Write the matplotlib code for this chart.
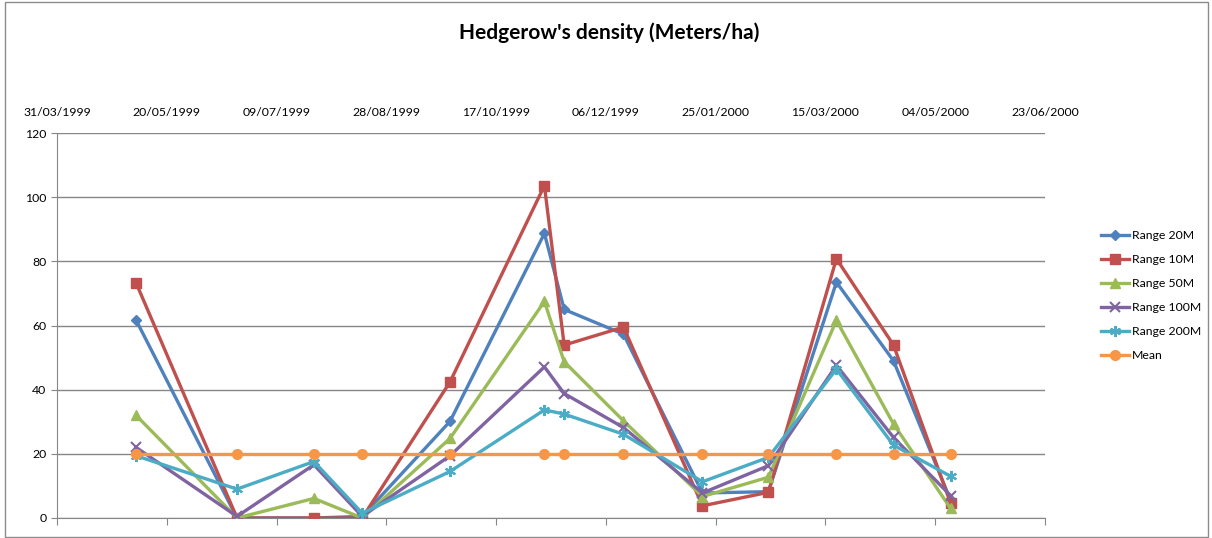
import datetime as dt
import matplotlib
matplotlib.use("Agg")
import matplotlib.pyplot as plt
import matplotlib.dates as mdates
from matplotlib.patches import Rectangle

plt.rcParams["font.family"] = ["Lato", "DejaVu Sans"]

# --- data ---
dates = ["1999-05-06", "1999-06-21", "1999-07-26", "1999-08-17", "1999-09-26",
         "1999-11-08", "1999-11-17", "1999-12-14", "2000-01-19", "2000-02-18",
         "2000-03-20", "2000-04-15", "2000-05-11"]
range_20 = [61.7, 0, 0, 0.5, 30.1, 88.7, 65.0, 57.3, 7.8, 8.2, 73.5, 49.0, 5.5]
range_10 = [73.3, 0, 0, 0, 42.4, 103.6, 53.9, 59.5, 3.8, 8.0, 80.8, 53.9, 4.6]
range_50 = [32.0, 0, 6.1, 0, 24.8, 67.5, 48.7, 30.3, 6.7, 12.7, 61.6, 29.3, 3.0]
range_100 = [22.0, 0.5, 16.6, 0.5, 19.4, 47.1, 38.8, 28.2, 7.8, 16.3, 47.6, 25.1, 7.0]
range_200 = [19.4, 9.0, 17.6, 1.5, 14.5, 33.7, 32.4, 26.1, 11.3, 18.9, 46.4, 22.7, 13.0]
mean = [20, 20, 20, 20, 20, 20, 20, 20, 20, 20, 20, 20, 20]

labels = ["Range 20M", "Range 10M", "Range 50M", "Range 100M", "Range 200M", "Mean"]
colors = ["#4F81BD", "#C0504D", "#9BBB59", "#8064A2", "#4BACC6", "#F79646"]
markers = ["D", "s", "^", "x", (6, 2, 0), "o"]
msizes = [5, 7, 7, 7, 8, 7]

x = [dt.datetime.strptime(d, "%Y-%m-%d") for d in dates]
start = dt.datetime(1999, 3, 31)
ticks = [start + dt.timedelta(days=50 * i) for i in range(10)]

fig = plt.figure(figsize=(12.12, 5.38), dpi=100)
ax = fig.add_axes([57 / 1212, 20 / 538, (1045 - 57) / 1212, (518 - 133) / 538])

# chart border like in Excel
fig.patches.append(Rectangle((0.004, 0.002), 0.993, 0.995, transform=fig.transFigure,
                             fill=False, edgecolor="#8c8c8c", linewidth=1))

series = [range_20, range_10, range_50, range_100, range_200, mean]
for i, (vals, lab) in enumerate(zip(series, labels)):
    ax.plot(x, vals, color=colors[i], lw=2.4, marker=markers[i], ms=msizes[i],
            mew=1.5 if i in (3, 4) else 1, mec=colors[i], label=lab, zorder=3 + i)

ax.set_xlim(ticks[0], ticks[-1])
ax.set_ylim(0, 120)
ax.set_yticks(range(0, 121, 20))
ax.set_xticks(ticks)
ax.xaxis.set_major_formatter(mdates.DateFormatter("%d/%m/%Y"))

ax.grid(axis="y", color="#868686", lw=1)
ax.set_axisbelow(True)
for s in ("top", "right"):
    ax.spines[s].set_visible(False)
for s in ("left", "bottom"):
    ax.spines[s].set_color("#868686")

ax.tick_params(axis="x", bottom=True, top=False, labelbottom=False, labeltop=True,
               direction="out", length=5, color="#868686", labelsize=8.8, pad=6)
ax.tick_params(axis="y", direction="out", length=4, color="#868686", labelsize=8.8)

fig.text(0.503, 0.94, "Hedgerow's density (Meters/ha)", ha="center", va="center",
         fontsize=15, fontweight="bold")

ax.legend(loc="upper left", bbox_to_anchor=(1090 / 1212, 1 - 219 / 538),
          bbox_transform=fig.transFigure, frameon=False, fontsize=8.8,
          handlelength=2.3, handletextpad=0.2, labelspacing=1.07)

fig.savefig("out.png", dpi=100)
